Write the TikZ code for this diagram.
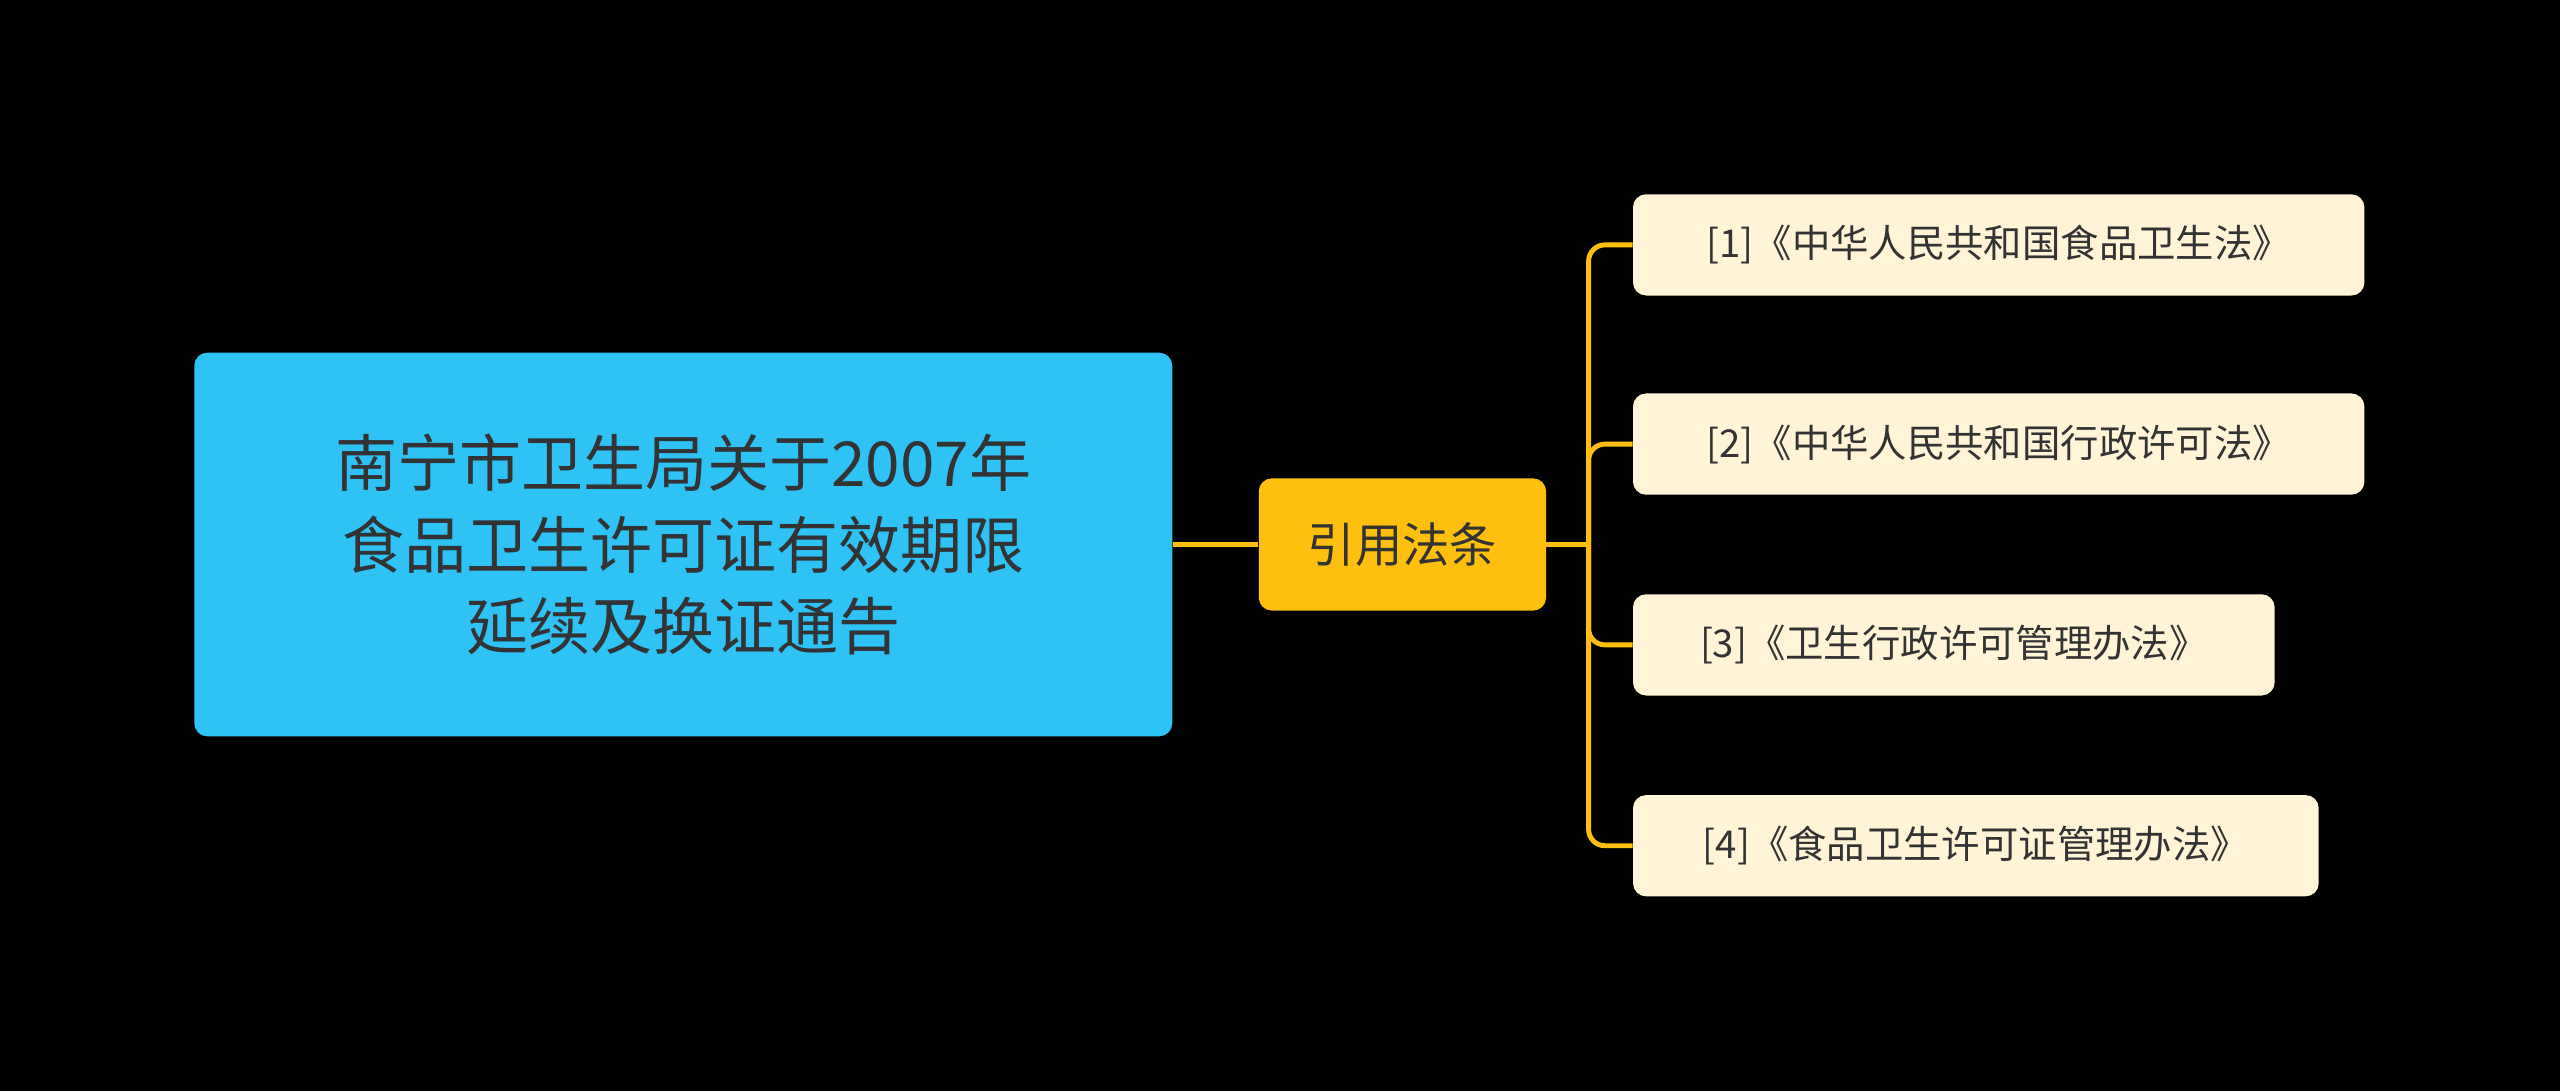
\documentclass[tikz,border=0pt]{standalone}
\usepackage{fontspec}
\setmainfont{Noto Sans CJK SC}
\begin{document}
\begin{tikzpicture}[x=1pt,y=-1pt,
  root/.style={fill=rootc,rounded corners=8pt,text=txt,font=\fontsize{38}{50}\selectfont,align=center},
  mid/.style={fill=midc,rounded corners=8pt,text=txt,font=\fontsize{29}{34}\selectfont},
  leaf/.style={fill=leafc,rounded corners=8pt,text=txt,font=\fontsize{23.5}{28}\selectfont,anchor=west,minimum height=62pt,inner xsep=14pt},
  conn/.style={draw=midc,line width=3pt,rounded corners=10pt}]
\definecolor{rootc}{HTML}{2EC2F5}
\definecolor{midc}{HTML}{FFBF0F}
\definecolor{leafc}{HTML}{FFF4D6}
\definecolor{txt}{HTML}{333333}
\fill[black] (0,0) rectangle (1568,668);
\useasboundingbox (0,0) rectangle (1568,668);
\node[root,minimum width=599pt,minimum height=235pt] (r) at (418.5,333.5) {南宁市卫生局关于2007年\\食品卫生许可证有效期限\\延续及换证通告};
\node[mid,minimum width=176pt,minimum height=81pt] (m) at (859,333.5) {引用法条};
\node[leaf,minimum width=448pt] (a) at (1000,150) {[1]《中华人民共和国食品卫生法》};
\node[leaf,minimum width=448pt] (b) at (1000,272) {[2]《中华人民共和国行政许可法》};
\node[leaf,minimum width=393pt] (c) at (1000,395) {[3]《卫生行政许可管理办法》};
\node[leaf,minimum width=420pt] (d) at (1000,518) {[4]《食品卫生许可证管理办法》};
\draw[conn] (r.east) -- (m.west);
\coordinate (j) at (973,333.5);
\draw[conn] (m.east) -- (j);
\foreach \n in {a,b,c,d}{\draw[conn] (j) |- (\n.west);}
\end{tikzpicture}
\end{document}
